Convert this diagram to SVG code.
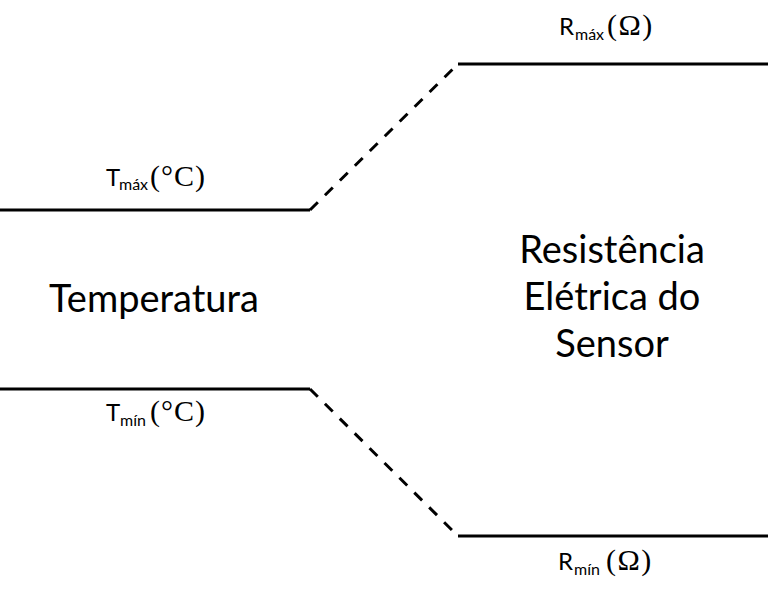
<svg xmlns="http://www.w3.org/2000/svg" width="770" height="599" viewBox="0 0 770 599">
<style>
.ln{fill:none;stroke:#000;stroke-width:3}
.ds{fill:none;stroke:#000;stroke-width:3;stroke-dasharray:11 10}
.big{font-family:Lato,"Open Sans",sans-serif;font-size:38px;fill:#000;text-anchor:middle}
.lbl{font-family:Lato,"Open Sans",sans-serif;font-size:24px;fill:#000}
.sub{font-size:16px}
.tm{font-family:"Liberation Serif",serif;font-size:30px;letter-spacing:1px}
.om{letter-spacing:1.5px}
</style>
<rect width="770" height="599" fill="#fff"/>
<g id="connectors">
<path class="ln" d="M0 210H310"/>
<path class="ds" d="M310 210L458 64"/>
<path class="ln" d="M458 64H768"/>
<path class="ln" d="M0 389H310"/>
<path class="ds" d="M310 389L458 536"/>
<path class="ln" d="M458 536H768"/>
</g>
<g id="temperatura"><text class="big" x="154" y="312">Temperatura</text></g>
<g id="resistencia"><text class="big" x="612" y="263">Resistência</text><text class="big" x="612" y="310">Elétrica do</text><text class="big" x="612" y="357">Sensor</text></g>
<g id="tmax"><text class="lbl" x="106" y="186">T<tspan class="sub" x="119" y="190">máx</tspan><tspan class="tm" x="150" y="186">(°C)</tspan></text></g>
<g id="tmin"><text class="lbl" x="106" y="421">T<tspan class="sub" x="120" y="426">mín</tspan><tspan class="tm" x="150" y="421">(°C)</tspan></text></g>
<g id="rmax"><text class="lbl" x="559" y="35">R<tspan class="sub" x="575" y="40">máx</tspan><tspan class="tm om" x="607" y="35">(Ω)</tspan></text></g>
<g id="rmin"><text class="lbl" x="558" y="570">R<tspan class="sub" x="574" y="575">mín</tspan><tspan class="tm om" x="606" y="570">(Ω)</tspan></text></g>
</svg>
